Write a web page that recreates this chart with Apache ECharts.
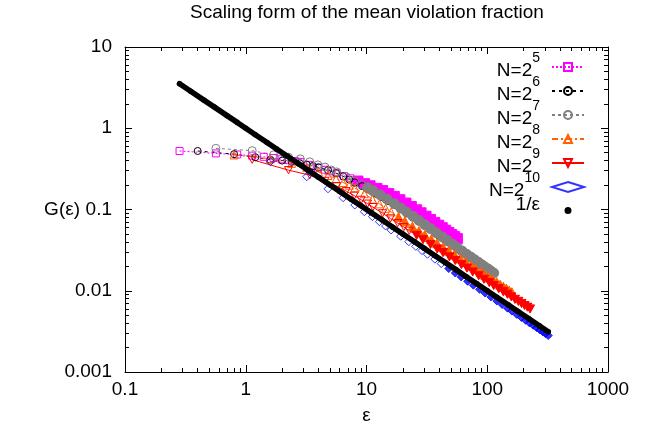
<!DOCTYPE html>
<html>
<head>
<meta charset="utf-8">
<script src="https://cdn.jsdelivr.net/npm/echarts@6/dist/echarts.min.js"></script>
<style>html,body{margin:0;padding:0;background:#fff}#c{width:647px;height:430px}</style>
</head>
<body>
<div id="c"></div>
<script>
// ---- data (epsilon, G) ----
const eps5 = [0.283,0.566,0.849,1.13,1.41,1.70,1.98,2.26,2.55,2.83,3.39,3.96,4.53,5.09,5.66,6.50,7.35,8.49,9.62,10.7,12.2,13.6,15.3,17.0,18.9,21.2,23.5,26.0,28.3,31.1,33.9,36.8,39.6,42.4,45.3,48.1,50.9,53.7,56.6];
const g5   = [0.525,0.49,0.475,0.46,0.445,0.43,0.415,0.405,0.395,0.385,0.354,0.328,0.309,0.295,0.279,0.258,0.242,0.224,0.208,0.196,0.182,0.171,0.157,0.145,0.132,0.120,0.109,0.0992,0.0912,0.0826,0.0755,0.0693,0.0641,0.0597,0.0556,0.0522,0.0491,0.0464,0.0438];

const eps6 = [0.4,0.8,1.2,1.6,2.0,2.4,2.8,3.2,3.6,4.0,4.8,5.6,6.4,7.2,8.0,9.2,10.4,12.0,13.6,15.2,17.2,19.2,21.6,24.0,26.8,30.0,33.2,36.8,40.0,44.0,48.0,52.0,56.0,60.0,64.0,68.0,72.0,76.0,80.0];
const g6   = [0.525,0.48,0.44,0.41,0.40,0.385,0.37,0.355,0.342,0.33,0.305,0.28,0.256,0.234,0.215,0.194,0.176,0.156,0.141,0.127,0.113,0.101,0.0898,0.0809,0.0721,0.0641,0.0575,0.0517,0.0474,0.043,0.0392,0.0359,0.0333,0.0309,0.0289,0.0271,0.0255,0.0242,0.0229];

const eps7 = [0.566,1.13,1.70,2.26,2.83,3.39,3.96,4.53,5.09,5.66,6.79,7.92,9.05,10.2,11.3,13.0,14.7,17.0,19.2,21.5,24.3,27.2,30.5,33.9,37.9,42.4,47.0,52.0,56.6,62.2,67.9,73.5,79.2,84.9,90.5,96.2,101.8,107.5,113.1];
const g7   = [0.566,0.53,0.47,0.44,0.42,0.386,0.354,0.333,0.306,0.29,0.253,0.225,0.203,0.185,0.170,0.151,0.135,0.118,0.104,0.093,0.0822,0.0733,0.0649,0.0581,0.0517,0.046,0.0413,0.0371,0.0339,0.0307,0.028,0.0258,0.0239,0.0223,0.0208,0.0195,0.0185,0.0174,0.0165];

const eps8 = [0.8,1.6,2.4,3.2,4.0,4.8,5.6,6.4,7.2,8.0,9.6,11.2,12.8,14.4,16,18.4,20.8,24,27.2,30.4,34.4,38.4,43.2,48,53.6,60,66.4,73.6,80,88,96,104,112,120,128,136,144,152,160];
const g8   = [0.469,0.42,0.37,0.33,0.29,0.262,0.238,0.215,0.199,0.184,0.1565,0.134,0.1173,0.1035,0.0932,0.0811,0.0717,0.0617,0.0544,0.0487,0.0431,0.0385,0.0342,0.0311,0.0278,0.0249,0.0226,0.0204,0.0188,0.01718,0.01575,0.01454,0.0136,0.01268,0.0119,0.0112,0.01065,0.01008,0.00959];

const eps9 = [1.13,2.26,3.39,4.53,5.66,6.79,7.92,9.05,10.2,11.3,13.6,15.8,18.1,20.4,22.6,26.0,29.4,33.9,38.5,43.0,48.6,54.3,61.1,67.9,75.8,84.9,93.9,104.1,113.1,124.5,135.8,147.1,158.4,169.7,181.0,192.3,203.6,215.0,226.3];
const g9   = [0.41,0.305,0.265,0.225,0.194,0.168,0.148,0.1315,0.118,0.107,0.0898,0.0777,0.068,0.0608,0.0548,0.048,0.0425,0.0371,0.0327,0.0295,0.0261,0.0236,0.0209,0.019,0.017,0.0153,0.01384,0.01258,0.01158,0.0106,0.00972,0.00904,0.0084,0.00784,0.0074,0.00697,0.00658,0.00628,0.00597];

const eps10 = [1.6,3.2,4.8,6.4,8,9.6,11.2,12.8,14.4,16,19.2,22.4,25.6,28.8,32,36.8,41.6,48,54.4,60.8,68.8,76.8,86.4,96,107.2,120,132.8,147.2,160,176,192,208,224,240,256,272,288,304,320];
const g10   = [0.388,0.2535,0.18,0.1396,0.1136,0.094,0.0817,0.0708,0.0626,0.056,0.0469,0.0402,0.0352,0.03125,0.0281,0.0245,0.0216,0.01875,0.01654,0.0148,0.01308,0.01172,0.0104,0.00938,0.0084,0.0075,0.00678,0.00611,0.005625,0.00511,0.00469,0.00433,0.00402,0.00375,0.00352,0.00331,0.00313,0.00296,0.00281];

const epsInv = [0.283,0.35,0.45,0.55,0.7,0.85,1,1.2,1.5,1.8,2.2,2.7,3.3,4,5,6,7.5,9,11,13.5,16.5,20,25,30,37,45,55,67,82,100,120,150,180,220,270,320];
const gInv   = [3.53,2.86,2.22,1.82,1.43,1.18,1.0,0.833,0.667,0.556,0.455,0.370,0.303,0.25,0.2,0.167,0.133,0.111,0.0909,0.0741,0.0606,0.05,0.04,0.0333,0.027,0.0222,0.0182,0.0149,0.0122,0.01,0.00833,0.00667,0.00556,0.00455,0.0037,0.003125];

const seriesNames = ['N=2^5','N=2^6','N=2^7','N=2^8','N=2^9','N=2^10','1/ε'];
const exponents = ['5','6','7','8','9','10'];
const xRange = [0.1, 1000];
const yRange = [0.001, 10];

// ---- build chart ----
const FONT = '"Liberation Sans", Arial, Helvetica, sans-serif';
const styles = [
  {color:'#ff00ff', symbol:'rect',     size:7, dense:10, fillFrom:17, dash:[2,2]},
  {color:'#000000', symbol:'circle',   size:7, dense:7,  fillFrom:99, dash:[3,4]},
  {color:'#808080', symbol:'circle',   size:8, dense:10, fillFrom:13, dash:[3,3]},
  {color:'#ff6000', symbol:'triangle', size:8, dense:9,  fillFrom:15, dash:[6,3,2,3]},
  {color:'#ff0000', symbol:'path://M0,0 L10,0 L5,9 Z', size:8, dense:9, fillFrom:15, dash:'solid'},
  {color:'#0000ff', symbol:'diamond',  size:8, dense:8,  fillFrom:17, dash:null}
];
const epsList = [eps5, eps6, eps7, eps8, eps9, eps10];
const gList = [g5, g6, g7, g8, g9, g10];

const series = epsList.map((eps, si) => {
  const st = styles[si];
  const data = eps.map((e, i) => i >= st.fillFrom
      ? {value:[e, gList[si][i]], itemStyle:{color: st.color}, symbolSize: st.dense}
      : [e, gList[si][i]]);
  const base = {
    name: seriesNames[si],
    data: data,
    symbol: st.symbol,
    symbolSize: st.size,
    symbolKeepAspect: true,
    itemStyle: {color:'transparent', borderColor: st.color, borderWidth: 1},
    emphasis: {disabled: true},
    animation: false,
    z: 2
  };
  if (st.dash === null) {
    return Object.assign(base, {type:'scatter'});
  }
  return Object.assign(base, {
    type:'line', showSymbol:true,
    lineStyle:{color: st.color, width: 1, type: st.dash}
  });
});
series.push({
  name: seriesNames[6], type:'line',
  data: epsInv.map((e, i) => [e, gInv[i]]),
  symbol:'circle', symbolSize: 5.5, showSymbol:true,
  itemStyle:{color:'#000'},
  lineStyle:{color:'#000', width:5.5, cap:'round'},
  emphasis:{disabled:true}, animation:false, z: 3
});

function axisCommon() {
  return {
    type:'log', logBase:10,
    axisLine:{show:true, onZero:false, lineStyle:{color:'#000', width:1}},
    axisTick:{show:true, inside:true, length:7, lineStyle:{color:'#000', width:1}},
    minorTick:{show:true, splitNumber:9, length:4, lineStyle:{color:'#000', width:1}},
    splitLine:{show:false},
    minorSplitLine:{show:false}
  };
}
const labelFmt = v => String(v);
const xMain = Object.assign(axisCommon(), {
  position:'bottom', min:xRange[0], max:xRange[1],
  axisLabel:{color:'#000', fontSize:19, fontFamily:FONT, margin:8, formatter:labelFmt},
  name:'ε', nameLocation:'middle', nameGap:34, nameMoveOverlap:false,
  nameTextStyle:{color:'#000', fontSize:19, fontFamily:FONT}
});
const xTop = Object.assign(axisCommon(), {position:'top', min:xRange[0], max:xRange[1], axisLabel:{show:false}});
const yMain = Object.assign(axisCommon(), {
  position:'left', min:yRange[0], max:yRange[1],
  axisLabel:{color:'#000', fontSize:19, fontFamily:FONT, margin:13, formatter:labelFmt},
  name:'G(ε)', nameLocation:'middle', nameGap:45, nameRotate:0, nameMoveOverlap:false,
  nameTextStyle:{color:'#000', fontSize:19, fontFamily:FONT, padding:[0,0,8,0]}
});
const yRight = Object.assign(axisCommon(), {position:'right', min:yRange[0], max:yRange[1], axisLabel:{show:false}});

const legendData = seriesNames.slice(0, 6).map(n => ({name:n}));
legendData.push({name: seriesNames[6], icon:'circle', itemStyle:{color:'#000', borderColor:'#fff', borderWidth:3}});

const chart = echarts.init(document.getElementById('c'), null, {renderer:'canvas'});
chart.setOption({
  backgroundColor:'#fff',
  animation:false,
  title:{
    text:'Scaling form of the mean violation fraction',
    left:190, top:3, padding:0,
    textStyle:{color:'#000', fontSize:19, fontWeight:'normal', fontFamily:FONT}
  },
  grid:{left:125, right:39, top:47, bottom:58, containLabel:false, outerBoundsMode:'none'},
  xAxis:[xMain, xTop],
  yAxis:[yMain, yRight],
  legend:{
    orient:'vertical', right:57, top:46, align:'right',
    itemWidth:32, itemHeight:10, itemGap:-5,
    symbolKeepAspect:true,
    selectedMode:false,
    data: legendData,
    formatter: function (name) {
      const i = seriesNames.indexOf(name);
      if (i < 6) return '{b|N=2}{s|' + exponents[i] + '}';
      return '{c|' + name + '}';
    },
    textStyle:{
      color:'#000', fontSize:19, fontFamily:FONT, padding:[0,7,0,0],
      rich:{
        b:{fontSize:19, fontFamily:FONT, color:'#000', verticalAlign:'bottom', padding:[0,0,3,0]},
        s:{fontSize:14, fontFamily:FONT, color:'#000', verticalAlign:'top', padding:[0,0,18,0]},
        c:{fontSize:19, fontFamily:FONT, color:'#000', padding:[0,0,12,0]}
      }
    }
  },
  series: series
});
</script>
</body>
</html>
